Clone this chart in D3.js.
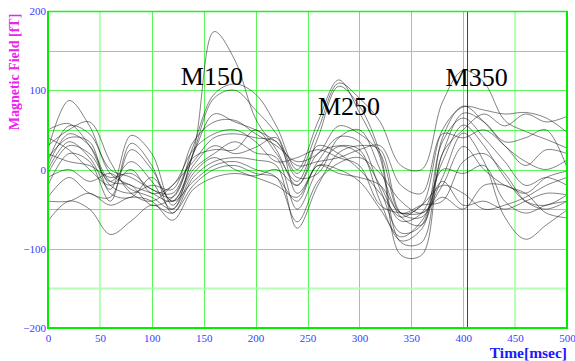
<!DOCTYPE html>
<html><head><meta charset="utf-8">
<script src="https://cdn.jsdelivr.net/npm/d3@7/dist/d3.min.js"></script>
<style>
html,body{margin:0;padding:0;background:#fff;}
svg{display:block;}
</style></head>
<body>
<svg id="chart" width="575" height="361"></svg>
<script>
// ---- data ----
const times = [0,20,40,60,80,100,120,140,160,180,200,220,240,260,280,300,320,340,360,380,400,420,440,460,480,500];
const s1  = [25,87,55,-5,-20,-30,-40,22,174,138,64,25,-20,40,105,80,20,-92,-92,40,80,60,30,10,0,12];
const s2  = [10,55,45,0,-10,-25,-35,30,95,108,95,55,0,60,113,72,15,-108,-108,20,50,70,55,70,60,67];
const s3  = [-5,30,20,-15,10,-15,-50,20,90,100,75,45,-5,50,109,90,60,5,0,85,125,110,62,48,38,27];
const s4  = [50,58,30,-20,-30,-20,-25,35,60,62,45,30,10,20,55,45,20,-55,-45,50,79,75,70,72,65,47];
const s5  = [30,50,60,10,-30,-40,-20,10,40,45,40,35,-10,-5,40,50,0,-60,-70,20,71,60,35,40,50,2];
const s6  = [15,40,35,-30,-35,-10,-40,5,30,20,28,40,-30,10,41,35,-25,-80,-70,35,65,40,10,-20,-10,-20];
const s7  = [0,35,15,-25,43,20,-45,0,20,35,21,15,-50,0,29,20,-20,-65,-55,10,56,30,-10,-40,-45,-32];
const s8  = [-20,20,10,-40,33,5,-55,-10,10,15,12,5,-74,-20,21,30,25,-55,-60,-10,46,10,-60,-88,-70,-51];
const s9  = [-35,-10,-30,-35,25,0,-40,-15,5,10,0,-10,-66,-15,8,15,-5,-40,-55,-20,29,0,-20,-30,-55,-61];
const s10 = [-65,-40,-50,-82,-65,-45,-55,-20,0,5,-5,-10,-40,5,-5,-10,-20,-55,-45,-40,10,20,-5,-40,-50,-40];
const s11 = [-40,-40,-30,-45,-35,-40,-64,-25,-10,-5,-8,0,-20,20,30,25,-40,-90,-75,0,-5,5,-40,-55,-45,-40];
const s12 = [20,10,5,-10,-5,-25,-30,15,25,25,50,20,-15,30,20,0,-30,-60,-45,-20,-30,-50,-45,-35,-20,-10];
const s13 = [40,25,0,-20,0,-30,-20,25,45,50,35,10,15,25,15,5,-45,-55,-55,-35,-50,-20,-20,-30,-10,-2];
const s14 = [5,45,30,-15,-20,-45,-35,20,70,60,50,35,5,10,15,25,30,-20,-30,45,40,50,30,5,25,20];
const s15 = [-10,0,-15,-5,-25,-35,-50,-5,15,0,-10,-20,-35,5,0,-15,-50,-85,-65,-15,-45,-40,-50,-40,-30,-32];
const seriesList = [s1,s2,s3,s4,s5,s6,s7,s8,s9,s10,s11,s12,s13,s14,s15];

const xTicks = [0,50,100,150,200,250,300,350,400,450,500];
const yTicks = [-200,-100,0,100,200];
const yGrid = [-200,-150,-100,-50,0,50,100,150,200];
const cursorTime = 404;
const peakLabels = ["M150","M250","M350"];
const peakLabelTimes = [128,260,383];
const peakLabelValues = [106,69,105];

// ---- layout ----
const svg = d3.select("#chart");
const x = d3.scaleLinear().domain([0,500]).range([48,567]);
const y = d3.scaleLinear().domain([-200,200]).range([328,11]);
const serif = "'Liberation Serif','Times New Roman',Times,serif";
const pale = new Set([50,450]);

// grid
const g = svg.append("g");
g.selectAll(".vg").data(xTicks.slice(1,-1)).enter().append("line")
  .attr("x1",d=>pale.has(d)?x(d):Math.round(x(d))+0.5)
  .attr("x2",d=>pale.has(d)?x(d):Math.round(x(d))+0.5)
  .attr("y1",y(200)).attr("y2",y(-200))
  .attr("stroke",d=>pale.has(d)?"#b4ffb4":"#5cf55c")
  .attr("stroke-width",d=>pale.has(d)?2:1);
g.selectAll(".hg").data(yGrid.slice(1,-1)).enter().append("line")
  .attr("x1",x(0)).attr("x2",x(500))
  .attr("y1",d=>d===-150?y(d):Math.round(y(d))+0.5)
  .attr("y2",d=>d===-150?y(d):Math.round(y(d))+0.5)
  .attr("stroke",d=>d===-150?"#b4ffb4":"#5cf55c")
  .attr("stroke-width",d=>d===-150?2:1);

// cursor
svg.append("line").attr("x1",Math.round(x(cursorTime))+0.5).attr("x2",Math.round(x(cursorTime))+0.5)
  .attr("y1",y(200)).attr("y2",y(-200)).attr("stroke","#444").attr("stroke-width",1);

// curves
const line = d3.line().x((d,i)=>x(times[i])).y(d=>y(d)).curve(d3.curveCatmullRom.alpha(0.5));
svg.append("g").selectAll("path").data(seriesList).enter().append("path")
  .attr("d",line).attr("fill","none").attr("stroke","#111").attr("stroke-opacity",0.75).attr("stroke-width",0.7);

// frame
svg.append("line").attr("x1",x(0)).attr("x2",x(500)).attr("y1",11.5).attr("y2",11.5).attr("stroke","#22ee22").attr("stroke-width",1.5);
svg.append("line").attr("x1",567).attr("x2",567).attr("y1",11).attr("y2",329).attr("stroke","#00ee00").attr("stroke-width",2);
svg.append("line").attr("x1",48).attr("x2",48).attr("y1",11).attr("y2",329).attr("stroke","#00ee00").attr("stroke-width",2);
svg.append("line").attr("x1",47).attr("x2",568).attr("y1",328).attr("y2",328).attr("stroke","#00ee00").attr("stroke-width",2);

// axes
const ax = svg.append("g").attr("transform","translate(0,328)")
  .call(d3.axisBottom(x).tickValues(xTicks).tickSize(0).tickPadding(6));
ax.select(".domain").remove();
ax.selectAll("text").attr("fill","#3a3aff").style("font-family",serif).style("font-size","11px");
const ay = svg.append("g").attr("transform","translate(48,0)")
  .call(d3.axisLeft(y).tickValues(yTicks).tickSize(0).tickPadding(2));
ay.select(".domain").remove();
ay.selectAll("text").attr("fill","#3a3aff").style("font-family",serif).style("font-size","11px");

// titles
svg.append("text").attr("transform","translate(19,72) rotate(-90)").attr("text-anchor","middle")
  .attr("fill","#ee22ee").style("font-family",serif).style("font-weight","bold").style("font-size","14px")
  .text("Magnetic Field [fT]");
svg.append("text").attr("x",567).attr("y",358).attr("text-anchor","end")
  .attr("fill","#1a1aff").style("font-family",serif).style("font-weight","bold").style("font-size","15.5px")
  .text("Time[msec]");

// peak labels
svg.append("g").selectAll("text").data(peakLabels).enter().append("text")
  .attr("x",(d,i)=>x(peakLabelTimes[i])).attr("y",(d,i)=>y(peakLabelValues[i]))
  .attr("fill","#000").style("font-family",serif).style("font-size","26px").text(d=>d);
</script>
</body></html>
